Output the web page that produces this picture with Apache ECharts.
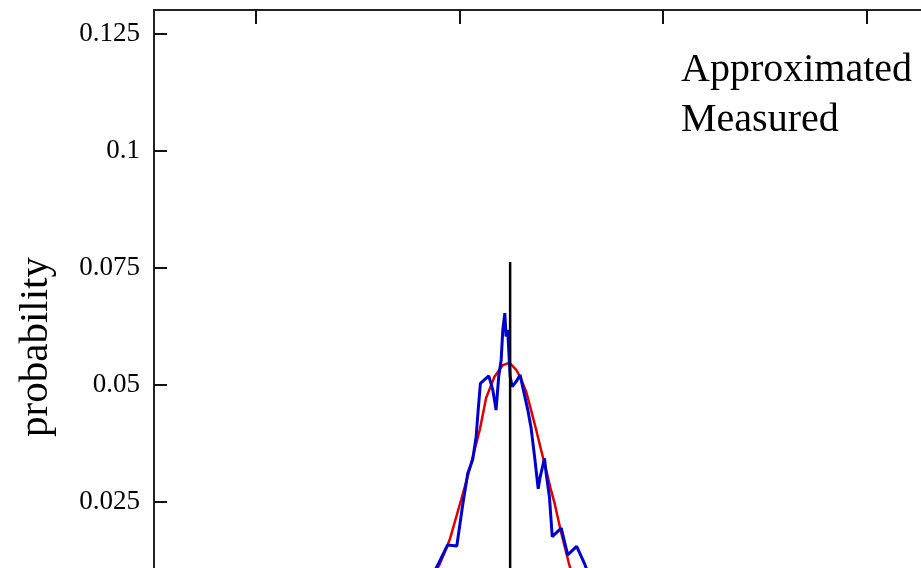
<!DOCTYPE html>
<html>
<head>
<meta charset="utf-8">
<script src="https://cdn.jsdelivr.net/npm/echarts@6/dist/echarts.min.js"></script>
<style>
html,body{margin:0;padding:0;background:#fff;}
#chart{width:921px;height:568px;}
</style>
</head>
<body>
<div id="chart"></div>
<script>
// ---- data ----
var seriesNames = ['Approximated', 'Measured'];
var yTicks = [0, 0.025, 0.05, 0.075, 0.1, 0.125];
var xTicks = [0, 1, 2, 3];

var approxX = [0.804, 0.903, 0.953, 1.009, 1.050, 1.101, 1.132, 1.173, 1.214, 1.247, 1.280, 1.301, 1.329, 1.353, 1.378, 1.402, 1.427, 1.448, 1.468, 1.501, 1.538, 1.591];
var approxY = [0.0041, 0.0116, 0.0169, 0.0254, 0.0318, 0.0404, 0.0472, 0.0517, 0.0542, 0.0547, 0.0532, 0.0515, 0.0485, 0.0446, 0.0404, 0.0361, 0.0318, 0.0280, 0.0248, 0.0184, 0.0120, 0.0041];

var measuredX = [0.829, 0.899, 0.943, 0.988, 1.017, 1.042, 1.066, 1.083, 1.093, 1.104, 1.145, 1.165, 1.181, 1.194, 1.206, 1.214, 1.224, 1.230, 1.238, 1.250, 1.260, 1.280, 1.299, 1.315, 1.337, 1.353, 1.370, 1.388, 1.398, 1.419, 1.427, 1.443, 1.457, 1.501, 1.533, 1.577, 1.615, 1.664];
var measuredY = [0.0062, 0.0119, 0.0158, 0.0156, 0.0244, 0.0311, 0.0340, 0.0389, 0.0446, 0.0503, 0.0519, 0.0489, 0.0446, 0.0518, 0.0553, 0.0617, 0.0653, 0.0603, 0.0617, 0.0518, 0.0496, 0.0507, 0.0521, 0.0489, 0.0446, 0.0408, 0.0347, 0.0278, 0.0304, 0.0343, 0.0311, 0.0261, 0.0176, 0.0194, 0.0137, 0.0155, 0.0119, 0.0062];

var markerX = [1.25, 1.25];
var markerY = [0, 0.0762];

function pairs(xs, ys) { return xs.map(function (x, i) { return [x, ys[i]]; }); }

var FONT = '"Liberation Serif", "DejaVu Serif", serif';
var chart = echarts.init(document.getElementById('chart'), null, {renderer: 'canvas'});
chart.setOption({
  animation: false,
  backgroundColor: '#ffffff',
  grid: {left: 154, top: 10, width: 814, height: 609, containLabel: false, outerBoundsMode: 'none'},
  legend: {
    data: seriesNames,
    orient: 'vertical',
    left: 670,
    top: 40,
    align: 'left',
    itemGap: 0,
    itemWidth: 0,
    itemHeight: 0,
    selectedMode: false,
    textStyle: {fontFamily: FONT, fontSize: 40, color: '#000', lineHeight: 50}
  },
  graphic: [{
    type: 'text',
    x: 36, y: 347,
    rotation: Math.PI / 2,
    style: {text: 'probability', fontFamily: FONT, fontSize: 41, fill: '#000', textAlign: 'center', textVerticalAlign: 'middle'}
  }],
  xAxis: {
    type: 'value',
    position: 'top',
    min: -0.5,
    max: 3.5,
    splitLine: {show: false},
    axisLine: {show: true, onZero: false, lineStyle: {color: '#222', width: 2}},
    axisTick: {show: true, inside: true, length: 14, customValues: xTicks, lineStyle: {color: '#111', width: 2}},
    axisLabel: {show: false}
  },
  yAxis: {
    type: 'value',
    min: 0,
    max: 0.13,
    interval: 0.025,
    splitLine: {show: false},
    axisLine: {show: true, onZero: false, lineStyle: {color: '#222', width: 2}},
    axisTick: {show: true, inside: true, length: 13, customValues: yTicks, lineStyle: {color: '#111', width: 2}},
    axisLabel: {
      show: true, margin: 14, customValues: yTicks,
      fontFamily: FONT, fontSize: 27, color: '#000',
      formatter: function (v) { return String(+v.toFixed(3)); }
    }
  },
  series: [
    {
      name: 'Approximated', type: 'line', data: pairs(approxX, approxY),
      showSymbol: false, symbol: 'none', z: 2,
      lineStyle: {color: '#e00000', width: 2.5}, itemStyle: {color: '#e00000'}
    },
    {
      name: 'Measured', type: 'line', data: pairs(measuredX, measuredY),
      showSymbol: false, symbol: 'none', z: 3,
      lineStyle: {color: '#0000d0', width: 3}, itemStyle: {color: '#0000d0'}
    },
    {
      name: 'marker', type: 'line', data: pairs(markerX, markerY),
      showSymbol: false, symbol: 'none', z: 4,
      lineStyle: {color: '#000', width: 2.5}
    }
  ]
});
</script>
</body>
</html>
